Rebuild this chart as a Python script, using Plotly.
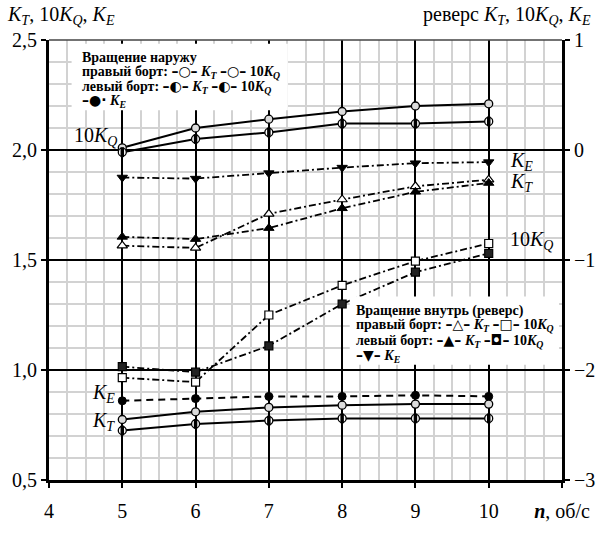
import plotly.graph_objects as go

# ---------------- data ----------------
n = [5, 6, 7, 8, 9, 10]

# outward rotation (left axis)
out_right_KT = [0.775, 0.81, 0.83, 0.84, 0.845, 0.845]
out_left_KT = [0.725, 0.755, 0.77, 0.78, 0.78, 0.78]
out_right_10KQ = [2.01, 2.10, 2.14, 2.175, 2.20, 2.21]
out_left_10KQ = [1.99, 2.05, 2.08, 2.12, 2.12, 2.13]
out_KE = [0.86, 0.87, 0.88, 0.88, 0.885, 0.88]

# inward rotation, reverse (right axis)
rev_right_KT = [-0.87, -0.89, -0.58, -0.45, -0.33, -0.27]
rev_left_KT = [-0.79, -0.81, -0.71, -0.53, -0.38, -0.30]
rev_right_10KQ = [-2.07, -2.11, -1.50, -1.23, -1.01, -0.85]
rev_left_10KQ = [-1.97, -2.02, -1.78, -1.40, -1.11, -0.94]
rev_KE = [-0.25, -0.26, -0.21, -0.16, -0.12, -0.11]

x_ticks = [4, 5, 6, 7, 8, 9, 10, 11]
x_ticktext = ["4", "5", "6", "7", "8", "9", "10", "<b><i>n</i></b>, об/с"]
yl_ticks = [0.5, 1.0, 1.5, 2.0, 2.5]
yr_ticks = [-3, -2, -1, 0, 1]

# ---------------- layout geometry ----------------
W, H = 607, 534
L, R, T, B = 49, 571, 40, 498
FONT = "Liberation Serif, Times New Roman, Tinos, serif"


def px(x):
    return (x - L) / (R - L)


def py(y):
    return (B - y) / (B - T)


fig = go.Figure()

SOLID = dict(color="black", width=2)
DASHDOT = dict(color="black", width=1.8, dash="7px,3px,2px,3px")
DASHED = dict(color="black", width=2, dash="7px,5px")

open_circ = dict(symbol="circle", size=8, color="#dcdcdc", line=dict(color="black", width=1.3))
half_circ = dict(symbol="circle", size=8, color="white", line=dict(color="black", width=1.3))
half_bar = dict(symbol="line-ns", size=7, line=dict(color="black", width=3.5))
full_circ = dict(symbol="circle", size=8, color="black", line=dict(color="black", width=1))
tri_open = dict(symbol="triangle-up", size=9, color="white", line=dict(color="black", width=1.2))
tri_full = dict(symbol="triangle-up", size=9, color="black", line=dict(color="black", width=1))
sq_open = dict(symbol="square", size=8, color="white", line=dict(color="black", width=1.2))
sq_full = dict(symbol="square", size=8, color="#222", line=dict(color="black", width=1.2))
tri_down = dict(symbol="triangle-down", size=9, color="black", line=dict(color="black", width=1))

# outward series
fig.add_trace(go.Scatter(x=n, y=out_right_10KQ, mode="lines+markers", line=SOLID, marker=open_circ))
fig.add_trace(go.Scatter(x=n, y=out_left_10KQ, mode="lines+markers", line=SOLID, marker=half_circ))
fig.add_trace(go.Scatter(x=n, y=out_left_10KQ, mode="markers", marker=half_bar))
fig.add_trace(go.Scatter(x=n, y=out_KE, mode="lines+markers", line=DASHED, marker=full_circ))
fig.add_trace(go.Scatter(x=n, y=out_right_KT, mode="lines+markers", line=SOLID, marker=open_circ))
fig.add_trace(go.Scatter(x=n, y=out_left_KT, mode="lines+markers", line=SOLID, marker=half_circ))
fig.add_trace(go.Scatter(x=n, y=out_left_KT, mode="markers", marker=half_bar))

# reverse series (right axis)
fig.add_trace(go.Scatter(x=n, y=rev_KE, yaxis="y2", mode="lines+markers", line=DASHDOT, marker=tri_down))
fig.add_trace(go.Scatter(x=n, y=rev_right_KT, yaxis="y2", mode="lines+markers", line=DASHDOT, marker=tri_open))
fig.add_trace(go.Scatter(x=n, y=rev_left_KT, yaxis="y2", mode="lines+markers", line=DASHDOT, marker=tri_full))
fig.add_trace(go.Scatter(x=n, y=rev_right_10KQ, yaxis="y2", mode="lines+markers", line=DASHDOT, marker=sq_open))
fig.add_trace(go.Scatter(x=n, y=rev_left_10KQ, yaxis="y2", mode="lines+markers", line=DASHDOT, marker=sq_full))

tickfont = dict(family=FONT, size=20, color="black")

fig.update_layout(
    width=W, height=H,
    margin=dict(l=L, r=W - R, t=T, b=H - B, pad=0),
    paper_bgcolor="white", plot_bgcolor="white",
    showlegend=False,
    separators=", ",
    font=dict(family=FONT, color="black"),
    xaxis=dict(
        range=[4, 11], tickmode="array", tickvals=x_ticks, ticktext=x_ticktext,
        showgrid=True, gridcolor="black", gridwidth=1.5,
        minor=dict(dtick=0.25, tick0=4, showgrid=True, gridcolor="#d2d2d2", gridwidth=1.5),
        showline=True, linecolor="black", linewidth=3,
        ticks="outside", ticklen=5, tickwidth=2, tickcolor="black",
        tickfont=tickfont, ticklabelstandoff=6, zeroline=False, fixedrange=True,
    ),
    yaxis=dict(
        range=[0.5, 2.5], tickmode="array", tickvals=yl_ticks, tickformat=".1f",
        showgrid=True, gridcolor="black", gridwidth=1.5,
        minor=dict(dtick=0.1, tick0=0.5, showgrid=True, gridcolor="#d2d2d2", gridwidth=1.5),
        showline=True, linecolor="black", linewidth=3,
        ticks="outside", ticklen=5, tickwidth=2, tickcolor="black",
        tickfont=tickfont, zeroline=False, fixedrange=True,
    ),
    yaxis2=dict(
        range=[-3, 1], tickmode="array", tickvals=yr_ticks, overlaying="y", side="right",
        showgrid=False, showline=True, linecolor="black", linewidth=3,
        ticks="outside", ticklen=5, tickwidth=2, tickcolor="black",
        tickfont=tickfont, zeroline=False, fixedrange=True,
    ),
)

# top border
fig.add_shape(type="line", xref="paper", yref="paper", x0=0, x1=1, y0=1, y1=1,
              line=dict(color="#444", width=1.5))

# legend boxes (white background)
fig.add_shape(type="rect", xref="paper", yref="paper", layer="above",
              x0=px(72), x1=px(292), y0=py(44), y1=py(113),
              fillcolor="white", line=dict(width=0))
fig.add_shape(type="rect", xref="paper", yref="paper", layer="above",
              x0=px(355), x1=px(568), y0=py(307), y1=py(378),
              fillcolor="white", line=dict(width=0))

KT = "<i>K<sub>T</sub></i>"
KQ = "10<i>K<sub>Q</sub></i>"
KE = "<i>K<sub>E</sub></i>"
SYM = "<span style=\"font-family:'DejaVu Sans'\">%s</span>"


def ann(text, x, y, size=14, xanchor="left", bold=False):
    fig.add_annotation(text=("<b>%s</b>" % text) if bold else text,
                       xref="paper", yref="paper", x=px(x), y=py(y),
                       xanchor=xanchor, yanchor="middle", showarrow=False,
                       font=dict(family=FONT, size=size, color="black"))


# legend 1
ann("Вращение наружу", 81, 58, bold=True)
ann("правый борт: " + SYM % "–○–" + " " + KT + " " + SYM % "–○–" + " " + KQ, 81, 73, bold=True)
ann("левый борт: " + SYM % "–◐–" + " " + KT + " " + SYM % "–◐–" + " " + KQ, 81, 89, bold=True)
ann(SYM % "–●·" + " " + KE, 81, 104, bold=True)

# legend 2
ann("Вращение внутрь (реверс)", 359, 322, bold=True)
ann("правый борт: " + SYM % "–△–" + " " + KT + " " + SYM % "–□–" + " " + KQ, 359, 337, bold=True)
ann("левый борт: " + SYM % "–▲–" + " " + KT + " " + SYM % "–◘–" + " " + KQ, 359, 353, bold=True)
ann(SYM % "–▼–" + " " + KE, 359, 369, bold=True)

# curve labels
ann(KQ, 72, 140, size=20)
ann(KE, 91, 408, size=20)
ann(KT, 91, 437, size=20)
ann(KE, 516, 166, size=20)
ann(KT, 516, 188, size=20)
ann(KQ, 516, 249, size=20)

# axis titles
ann(KT + ", " + KQ + ", " + KE, 4, 15, size=20)
ann("реверс " + KT + ", " + KQ + ", " + KE, 603, 15, size=20, xanchor="right")

fig.write_html("out.html")
